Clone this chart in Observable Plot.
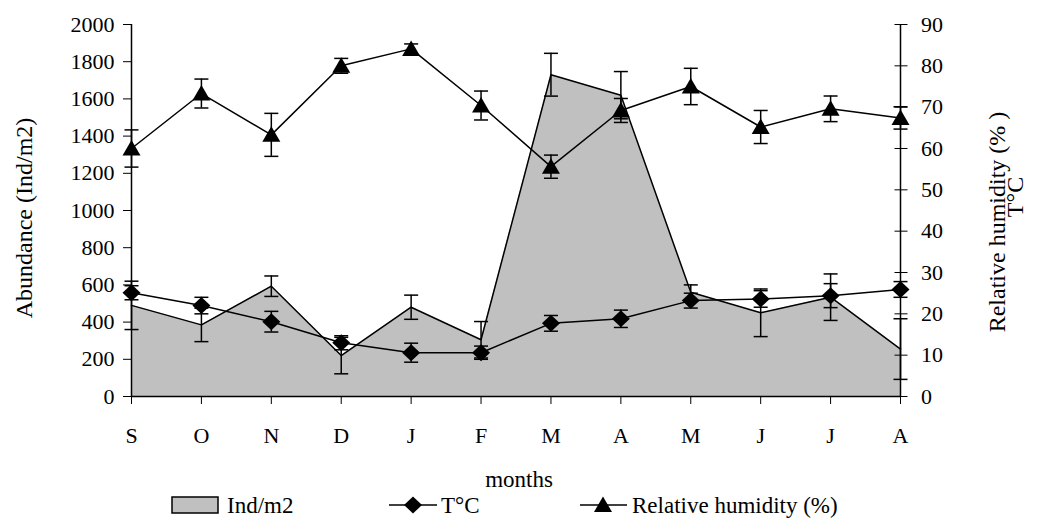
<!DOCTYPE html>
<html>
<head>
<meta charset="utf-8">
<script src="https://cdn.jsdelivr.net/npm/d3@7"></script>
<script src="https://cdn.jsdelivr.net/npm/@observablehq/plot@0.6"></script>
<style>
  body { margin: 0; background: #fff; }
  #chart svg { display: block; }
  #legend { display: block; }
  svg, svg text {
    font-family: "Liberation Serif", "Times New Roman", Times, "DejaVu Serif", serif !important;
  }
</style>
</head>
<body>
<div id="chart"></div>
<svg id="legend" width="1038" height="26"></svg>
<script>
// Monthly sampling, September to August
const months = ["S", "O", "N", "D", "J", "F", "M", "A", "M", "J", "J", "A"];
// Abundance (individuals per m2) and its error
const abundance    = [490, 385, 593, 220, 480, 305, 1730, 1620, 560, 450, 534, 255];
const abundanceErr = [130, 90, 55, 98, 65, 98, 115, 127, 40, 128, 125, 163];
// Temperature (°C) and its error
const temperature    = [25.1, 22.0, 18.1, 13.0, 10.6, 10.6, 17.7, 18.8, 23.2, 23.6, 24.4, 25.9];
const temperatureErr = [1.7, 2.0, 2.5, 1.7, 2.3, 1.6, 1.9, 2.1, 1.8, 2.0, 2.9, 1.9];
// Relative humidity (%) and its error
const humidity    = [60.0, 73.3, 63.3, 80.0, 84.1, 70.4, 55.6, 69.2, 75.0, 65.2, 69.6, 67.4];
const humidityErr = [4.5, 3.5, 5.2, 1.8, 1.2, 3.5, 2.8, 2.9, 4.4, 4.0, 3.1, 2.7];
// Axis ticks
const leftTicks  = [0, 200, 400, 600, 800, 1000, 1200, 1400, 1600, 1800, 2000];
const rightTicks = [0, 10, 20, 30, 40, 50, 60, 70, 80, 90];

const leftMax = 2000, rightMax = 90;
const k = leftMax / rightMax; // right-axis units to left-axis units

const rows = months.map((m, i) => ({
  i, m,
  ab: abundance[i], abE: abundanceErr[i],
  t: temperature[i] * k, tE: temperatureErr[i] * k,
  rh: humidity[i] * k, rhE: humidityErr[i] * k
}));

const cap = { draw(ctx) { ctx.moveTo(-7, 0); ctx.lineTo(7, 0); } };
const diamond = { draw(ctx) { ctx.moveTo(0, -8.5); ctx.lineTo(9, 0); ctx.lineTo(0, 8.5); ctx.lineTo(-9, 0); ctx.closePath(); } };
const triangle = { draw(ctx) { ctx.moveTo(0, -8.5); ctx.lineTo(9, 7); ctx.lineTo(-9, 7); ctx.closePath(); } };

function errorBars(key, errKey) {
  const lo = d => d[key] - d[errKey];
  const hi = d => d[key] + d[errKey];
  return [
    Plot.ruleX(rows, { x: "i", y1: lo, y2: hi, stroke: "black", strokeWidth: 1.5 }),
    Plot.dot(rows, { x: "i", y: hi, symbol: cap, stroke: "black", strokeWidth: 1.5, fill: "none" }),
    Plot.dot(rows, { x: "i", y: lo, symbol: cap, stroke: "black", strokeWidth: 1.5, fill: "none" })
  ];
}

const chart = Plot.plot({
  width: 1038,
  height: 494,
  marginLeft: 131,
  marginRight: 138,
  marginTop: 24,
  marginBottom: 98,
  style: { fontSize: "22px", color: "black", background: "white" },
  x: { type: "linear", domain: [0, months.length - 1] },
  y: { domain: [0, leftMax] },
  marks: [
    // abundance area
    Plot.areaY(rows, { x: "i", y: "ab", fill: "#c0c0c0" }),
    Plot.lineY(rows, { x: "i", y: "ab", stroke: "black", strokeWidth: 1.5 }),
    ...errorBars("ab", "abE"),
    // axis lines
    Plot.ruleY([0], { stroke: "black", strokeWidth: 1.5 }),
    Plot.ruleX([0, months.length - 1], { stroke: "black", strokeWidth: 1.5 }),
    Plot.axisY({ anchor: "left", ticks: leftTicks, tickFormat: d => String(d), tickSize: 8, tickPadding: 9, label: null }),
    Plot.axisY({ anchor: "right", ticks: rightTicks.map(v => v * k), tickFormat: d => String(Math.round(d / k)),
                 tickSize: 13, dx: -6.5, tickPadding: 14, label: null }),
    Plot.axisX({ ticks: d3.range(months.length), tickFormat: i => months[i], tickSize: 8, tickPadding: 23, label: null }),
    // temperature
    Plot.lineY(rows, { x: "i", y: "t", stroke: "black", strokeWidth: 1.5 }),
    ...errorBars("t", "tE"),
    Plot.dot(rows, { x: "i", y: "t", symbol: diamond, fill: "black", stroke: "none" }),
    // relative humidity
    Plot.lineY(rows, { x: "i", y: "rh", stroke: "black", strokeWidth: 1.5 }),
    ...errorBars("rh", "rhE"),
    Plot.dot(rows, { x: "i", y: "rh", symbol: triangle, fill: "black", stroke: "none" }),
    // x-axis title
    Plot.text(["months"], { text: d => d, frameAnchor: "bottom", dx: 3, dy: 90, fontSize: 23 })
  ]
});
document.getElementById("chart").append(chart);

// rotated axis titles
const svg = d3.select(chart);
function vtitle(text, x, y) {
  svg.append("text")
    .attr("transform", `translate(${x},${y}) rotate(-90)`)
    .attr("text-anchor", "middle")
    .attr("dominant-baseline", "central")
    .attr("font-size", 24)
    .attr("fill", "black")
    .text(text);
}
vtitle("Abundance (Ind/m2)", 24, 218);
vtitle("Relative humidity (% )", 997, 222);
vtitle("T°C", 1015, 197);

// legend below the chart
const legend = d3.select("#legend").style("font-size", "23px");
legend.append("rect").attr("x", 172).attr("y", 3).attr("width", 46).attr("height", 16)
  .attr("fill", "#c0c0c0").attr("stroke", "black").attr("stroke-width", 1.5);
legend.append("text").attr("x", 227).attr("y", 19).text("Ind/m2");
legend.append("line").attr("x1", 389).attr("x2", 437).attr("y1", 11).attr("y2", 11).attr("stroke", "black").attr("stroke-width", 1.5);
legend.append("path").attr("transform", "translate(413,11)").attr("d", d3.symbol(diamond)()).attr("fill", "black");
legend.append("text").attr("x", 441).attr("y", 19).text("T°C");
legend.append("line").attr("x1", 580).attr("x2", 627).attr("y1", 11).attr("y2", 11).attr("stroke", "black").attr("stroke-width", 1.5);
legend.append("path").attr("transform", "translate(603,11)").attr("d", d3.symbol(triangle)()).attr("fill", "black");
legend.append("text").attr("x", 632).attr("y", 19).text("Relative humidity (%)");
</script>
</body>
</html>
